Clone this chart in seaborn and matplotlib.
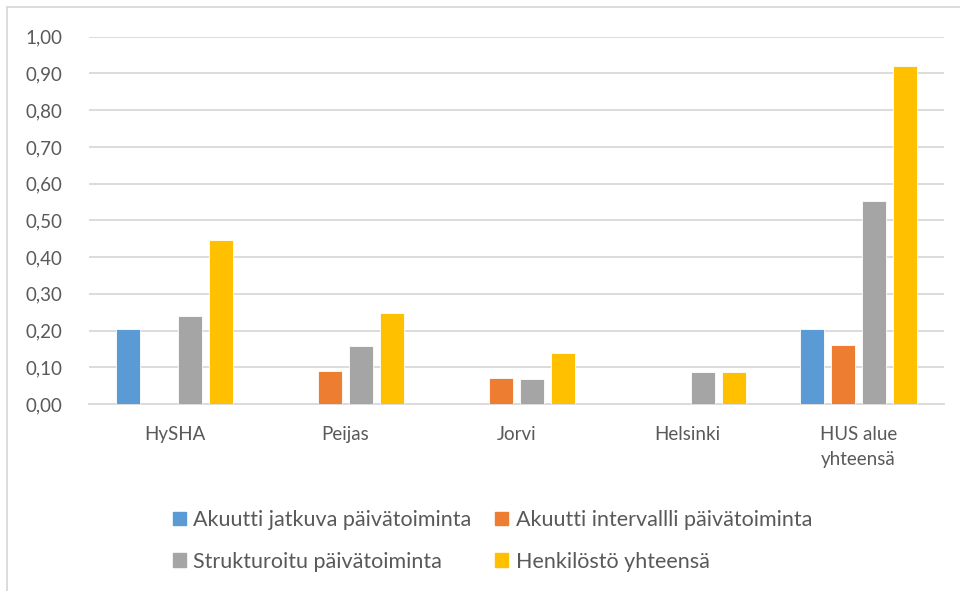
import numpy as np
import pandas as pd
import matplotlib
matplotlib.use("Agg")
import matplotlib.pyplot as plt
import seaborn as sns
from matplotlib.ticker import FuncFormatter, MultipleLocator
from matplotlib.lines import Line2D

# data
yksikot = ["HySHA", "Peijas", "Jorvi", "Helsinki", "HUS alue\nyhteensä"]
sarjat = ["Akuutti jatkuva päivätoiminta", "Akuutti intervallli päivätoiminta",
          "Strukturoitu päivätoiminta", "Henkilöstö yhteensä"]
akuutti_jatkuva = [0.205, 0.0, 0.0, 0.0, 0.205]
akuutti_intervalli = [0.0, 0.09, 0.07, 0.0, 0.16]
strukturoitu = [0.24, 0.158, 0.068, 0.087, 0.553]
henkilosto = [0.446, 0.248, 0.138, 0.087, 0.92]
varit = ["#5B9BD5", "#ED7D31", "#A5A5A5", "#FFC000"]

df = pd.DataFrame({
    "Yksikkö": np.repeat(yksikot, len(sarjat)),
    "Sarja": sarjat * len(yksikot),
    "Arvo": np.ravel(np.column_stack([akuutti_jatkuva, akuutti_intervalli,
                                      strukturoitu, henkilosto])),
})

sns.set_theme(style="white")
plt.rcParams["font.family"] = ["Lato", "DejaVu Sans"]
tekstivari = "#595959"

fig = plt.figure(figsize=(9.6, 5.91), dpi=100)
ax = fig.add_axes([89 / 960, 1 - 404 / 591, (944 - 89) / 960, (404 - 36.7) / 591])

sns.barplot(data=df, x="Yksikkö", y="Arvo", hue="Sarja", order=yksikot,
            hue_order=sarjat, palette=varit, width=0.725, gap=0.22,
            saturation=1, edgecolor="white", linewidth=0.6, ax=ax, zorder=3)

ax.set_ylim(0, 1.0)
ax.set_xlim(-0.5, 4.5)
ax.yaxis.set_major_locator(MultipleLocator(0.1))
ax.yaxis.set_major_formatter(FuncFormatter(lambda v, p: f"{v:.2f}".replace(".", ",")))
ax.grid(axis="y", color="#D9D9D9", linewidth=1.3, zorder=0)
ax.set_axisbelow(True)
for s in ["left", "right", "top"]:
    ax.spines[s].set_visible(False)
ax.spines["bottom"].set_color("#D9D9D9")
ax.spines["bottom"].set_linewidth(1.3)
ax.tick_params(axis="both", length=0, labelsize=13.5, colors=tekstivari)
ax.tick_params(axis="y", pad=19)
ax.tick_params(axis="x", pad=16)
for t in ax.get_xticklabels():
    t.set_linespacing(1.55)
    t.set_verticalalignment("top")
ax.set_xlabel("")
ax.set_ylabel("")

# legend rows: jatkuva | intervalli, strukturoitu | henkilöstö
kahvat = [plt.Rectangle((0, 0), 1, 1, color=c) for c in varit]
jarj = [0, 2, 1, 3]
ax.legend([kahvat[i] for i in jarj], [sarjat[i] for i in jarj], ncol=2,
          frameon=False, loc="center",
          bbox_to_anchor=(0.513, 1 - 541 / 591), bbox_transform=fig.transFigure,
          fontsize=15.5, labelcolor=tekstivari, handlelength=0.6, handleheight=0.6,
          handletextpad=0.35, columnspacing=1.1, labelspacing=1.0)

# chart area border (top and left edges visible)
fig.add_artist(Line2D([7 / 960, 1], [1 - 7 / 591, 1 - 7 / 591],
                      transform=fig.transFigure, color="#D9D9D9", linewidth=1.3))
fig.add_artist(Line2D([7 / 960, 7 / 960], [0, 1 - 7 / 591],
                      transform=fig.transFigure, color="#D9D9D9", linewidth=1.3))

fig.savefig("out.png", dpi=100)
